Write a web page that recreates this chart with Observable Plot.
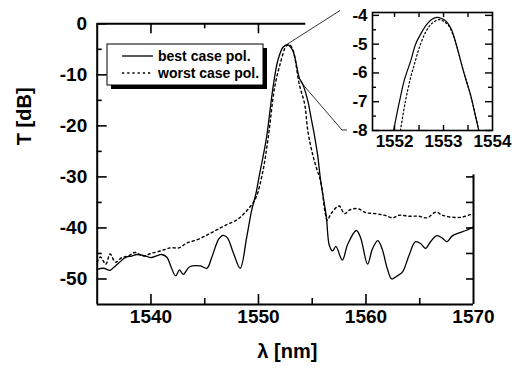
<!DOCTYPE html>
<html><head><meta charset="utf-8">
<script src="https://cdn.jsdelivr.net/npm/d3@7"></script>
<script src="https://cdn.jsdelivr.net/npm/@observablehq/plot@0.6"></script>
<style>
body{margin:0;background:#fff;}
#wrap{position:relative;width:516px;height:368px;overflow:hidden;}
#wrap svg{position:absolute;}
</style></head><body><div id="wrap"></div>
<script>
// ---- data ----
const bestLambda = [1535.0,1535.6,1536.2,1536.5,1536.7,1537.2,1537.6,1538.2,1538.7,1539.5,1540.0,1540.6,1541.0,1541.5,1541.9,1542.3,1542.65,1543.0,1543.6,1544.6,1545.2,1545.65,1546.3,1546.7,1547.1,1547.65,1548.3,1548.9,1549.35,1549.75,1550.1,1550.74,1551.35,1551.8,1552.28,1552.7,1553.2,1553.8,1554.13,1554.6,1554.9,1555.2,1555.5,1555.8,1556.3,1556.6,1556.9,1557.2,1557.8,1558.3,1559.1,1559.5,1560.15,1560.6,1561.1,1561.5,1562.0,1562.4,1562.9,1563.4,1564.0,1564.6,1565.1,1565.55,1566.0,1566.6,1567.1,1567.55,1568.0,1568.6,1569.3,1570.0];
const bestT = [-48.1,-47.9,-48.3,-47.8,-47.45,-46.5,-45.8,-45.5,-45.2,-45.5,-45.8,-45.4,-45.2,-45.8,-47.8,-49.4,-48.2,-49.1,-47.6,-47.45,-47.9,-45.8,-42.2,-41.45,-41.9,-44.8,-47.9,-41.9,-36.7,-33.4,-29.5,-22.4,-12.5,-7.2,-4.6,-4.07,-5.3,-10.6,-11.9,-15.2,-18.5,-21.8,-25.7,-31.0,-37.6,-43.5,-44.5,-43.6,-46.3,-43.2,-40.5,-41.9,-47.1,-44.1,-42.5,-44.1,-48.1,-50.0,-49.4,-48.6,-45.4,-42.7,-43.1,-44.0,-42.7,-41.5,-42.0,-42.7,-41.6,-41.0,-40.5,-39.8];

const worstLambda = [1535.0,1535.3,1535.8,1536.2,1536.7,1537.3,1537.9,1538.5,1539.3,1540.0,1540.9,1541.8,1542.6,1543.3,1544.3,1545.2,1546.1,1547.0,1548.0,1548.7,1549.35,1549.8,1550.4,1550.9,1551.5,1552.0,1552.6,1552.9,1553.2,1553.8,1554.3,1554.6,1555.05,1555.4,1555.8,1556.2,1556.4,1556.75,1557.5,1558.0,1558.45,1559.2,1560.0,1560.9,1561.7,1562.5,1563.1,1564.0,1564.9,1565.7,1566.5,1567.1,1568.0,1568.9,1569.7,1570.0];
const worstT = [-46.7,-45.7,-47.1,-45.1,-46.7,-45.8,-45.5,-44.8,-45.5,-45.0,-44.5,-43.9,-43.9,-43.0,-42.3,-41.4,-40.4,-39.4,-38.4,-37.1,-35.5,-33.9,-29.0,-22.4,-12.5,-8.0,-4.3,-4.15,-5.1,-11.9,-15.8,-21.1,-25.7,-28.3,-31.0,-37.0,-38.5,-37.2,-35.7,-37.2,-36.5,-36.2,-37.0,-37.2,-37.5,-38.0,-37.5,-37.7,-37.7,-38.0,-36.9,-37.5,-37.9,-37.9,-37.4,-37.3];

const insetBestLambda = [1551.98,1552.1,1552.2,1552.33,1552.43,1552.55,1552.65,1552.75,1552.86,1552.95,1553.05,1553.15,1553.25,1553.35,1553.45,1553.55,1553.62,1553.72];
const insetBestT = [-8.0,-7.0,-6.25,-5.58,-5.0,-4.6,-4.33,-4.15,-4.07,-4.1,-4.2,-4.45,-4.95,-5.58,-6.2,-6.75,-7.25,-8.0];
const insetWorstLambda = [1552.12,1552.22,1552.33,1552.43,1552.53,1552.63,1552.75,1552.9,1553.0,1553.1,1553.2,1553.3,1553.4,1553.5,1553.6,1553.72];
const insetWorstT = [-8.0,-7.0,-6.15,-5.55,-5.0,-4.6,-4.3,-4.15,-4.2,-4.35,-4.7,-5.25,-5.9,-6.45,-7.1,-8.0];

const mainXTicks = [1540,1550,1560,1570];
const mainXMinor = [1545,1555,1565];
const mainYTicks = [0,-10,-20,-30,-40,-50];
const mainYMinor = [-5,-15,-25,-35,-45];
const rightYTicks = [-30,-35,-40,-45,-50];
const topMajor = [1540,1550];
const topMinor = [1545];
const insetXTicks = [1552,1553,1554];
const insetXAll = [1552,1552.5,1553,1553.5];
const insetYTicks = [-4,-5,-6,-7,-8];
const insetYMinor = [-4.5,-5.5,-6.5,-7.5];
const legendLabels = ["best case pol.","worst case pol."];
const xLabel = "λ [nm]";
const yLabel = "T [dB]";

// ---- build tables ----
const best = bestLambda.map((x,i)=>({x, y: bestT[i]}));
const worst = worstLambda.map((x,i)=>({x, y: worstT[i]}));
const iBest = insetBestLambda.map((x,i)=>({x, y: insetBestT[i]}));
const iWorst = insetWorstLambda.map((x,i)=>({x, y: insetWorstT[i]}));

const FONT = '"Liberation Sans", Arial, Helvetica, sans-serif';
const W=516, H=368, mL=96.7, mT=23.3, mR=43, mB=64;
const fW=W-mL-mR, fH=H-mT-mB;
const dash = "2.2,3";
const fmt = d => String(d);

const main = Plot.plot({
  width:W, height:H, marginLeft:mL, marginTop:mT, marginRight:mR, marginBottom:mB,
  x:{domain:[1535,1570], label:null, axis:null},
  y:{domain:[-55,0], label:null, axis:null},
  style:{fontFamily:FONT, fontWeight:"bold", background:"white", color:"black", overflow:"visible"},
  marks:[
    Plot.line(worst,{x:"x",y:"y",stroke:"black",strokeWidth:1.4,strokeDasharray:dash,curve:"catmull-rom"}),
    Plot.line(best,{x:"x",y:"y",stroke:"black",strokeWidth:1.3,curve:"catmull-rom"}),
    Plot.ruleX([1535],{strokeWidth:2}),
    Plot.ruleY([-55],{strokeWidth:2}),
    Plot.ruleY([0],{x1:1535,x2:1554.4,strokeWidth:2}),
    Plot.ruleX([1570],{y1:-55,y2:-29.6,strokeWidth:2}),
    Plot.ruleX(mainXTicks.slice(0,3),{insetTop:fH-10,strokeWidth:1.6}),
    Plot.ruleX(mainXMinor,{insetTop:fH-6,strokeWidth:1.6}),
    Plot.ruleX(topMajor,{insetBottom:fH-10,strokeWidth:1.6}),
    Plot.ruleX(topMinor,{insetBottom:fH-5,strokeWidth:1.6}),
    Plot.ruleY(mainYTicks,{insetRight:fW-10,strokeWidth:1.6}),
    Plot.ruleY(mainYMinor,{insetRight:fW-5,strokeWidth:1.6}),
    Plot.ruleY(rightYTicks,{insetLeft:fW-7,strokeWidth:1.6}),
    Plot.text(mainXTicks,{x:d=>d, text:fmt, frameAnchor:"bottom", lineAnchor:"top", dy:5, fontSize:19}),
    Plot.text(mainYTicks,{y:d=>d, text:fmt, frameAnchor:"left", textAnchor:"end", dx:-10, fontSize:19}),
    Plot.text([yLabel],{frameAnchor:"left",dx:-73,dy:-19,rotate:-90,fontSize:20}),
    Plot.text([xLabel],{frameAnchor:"bottom",dx:2,dy:53,fontSize:20})
  ]
});

// legend inside the plot
{
  const svg = d3.select(main);
  const g = svg.append("g").attr("font-family",FONT).attr("font-weight","bold").attr("font-size",14).attr("text-anchor","start");
  const bx=107, by=44, bw=156, bh=41, sh=4;
  g.append("rect").attr("x",bx+sh).attr("y",by+sh).attr("width",bw).attr("height",bh).attr("fill","black");
  g.append("rect").attr("x",bx).attr("y",by).attr("width",bw).attr("height",bh).attr("fill","white").attr("stroke","black").attr("stroke-width",1);
  const rows=[{y:56, d:null},{y:73, d:dash}];
  legendLabels.forEach((t,i)=>{
    const l = g.append("line").attr("x1",122).attr("x2",153).attr("y1",rows[i].y).attr("y2",rows[i].y)
      .attr("stroke","black").attr("stroke-width",1.3);
    if(rows[i].d) l.attr("stroke-dasharray",rows[i].d);
    g.append("text").attr("x",158).attr("y",rows[i].y).attr("dy","0.35em").attr("text-anchor","start").text(t);
  });
}

// inset
const iLeft=322, iW=194, iH=172, imL=50, imT=12, imR=24, imB=42;
const ifW=iW-imL-imR, ifH=iH-imT-imB;
const inset = Plot.plot({
  width:iW, height:iH, marginLeft:imL, marginTop:imT, marginRight:imR, marginBottom:imB,
  x:{domain:[1551.55,1554], label:null, axis:null},
  y:{domain:[-8,-3.9], label:null, axis:null},
  style:{fontFamily:FONT, fontWeight:"bold", background:"white", color:"black", overflow:"visible"},
  marks:[
    Plot.line(iWorst,{x:"x",y:"y",stroke:"black",strokeWidth:1.2,strokeDasharray:"1.6,2.4",curve:"catmull-rom"}),
    Plot.line(iBest,{x:"x",y:"y",stroke:"black",strokeWidth:1.2,curve:"catmull-rom"}),
    Plot.frame({strokeWidth:1.6}),
    Plot.ruleX(insetXAll,{insetBottom:ifH-5,strokeWidth:1.4}),
    Plot.ruleX(insetXAll,{insetTop:ifH-5,strokeWidth:1.4}),
    Plot.ruleY(insetYTicks,{insetRight:ifW-7,strokeWidth:1.4}),
    Plot.ruleY(insetYMinor,{insetRight:ifW-4,strokeWidth:1.4}),
    Plot.ruleY(insetYTicks,{insetLeft:ifW-7,strokeWidth:1.4}),
    Plot.ruleY(insetYMinor,{insetLeft:ifW-4,strokeWidth:1.4}),
    Plot.text(insetXTicks,{x:d=>d, text:fmt, frameAnchor:"bottom", lineAnchor:"top", dy:4, fontSize:17}),
    Plot.text(insetYTicks,{y:d=>d, text:fmt, frameAnchor:"left", textAnchor:"end", dx:-5, fontSize:17})
  ]
});

const wrap = document.getElementById("wrap");
main.style.left="0px"; main.style.top="0px";
inset.style.left=iLeft+"px"; inset.style.top="0px";
wrap.appendChild(main);
wrap.appendChild(inset);

// connector lines (overlay)
{
  const mx=main.scale("x"), my=main.scale("y"), ix=inset.scale("x"), iy=inset.scale("y");
  const ov = d3.create("svg").attr("width",W).attr("height",H).style("left","0px").style("top","0px").style("pointer-events","none");
  const endX = iLeft + ix.apply(1551.55) - 32;
  ov.append("path").attr("fill","none").attr("stroke","black").attr("stroke-width",0.8)
    .attr("d",`M${mx.apply(1552.72)},${my.apply(-4.1)}L${endX},${iy.apply(-3.85)}`);
  ov.append("path").attr("fill","none").attr("stroke","black").attr("stroke-width",0.8)
    .attr("d",`M${mx.apply(1553.98)},${my.apply(-11.5)}L${endX+2},${iy.apply(-8)}L${endX+7},${iy.apply(-8)}`);
  wrap.appendChild(ov.node());
}
</script></body></html>
